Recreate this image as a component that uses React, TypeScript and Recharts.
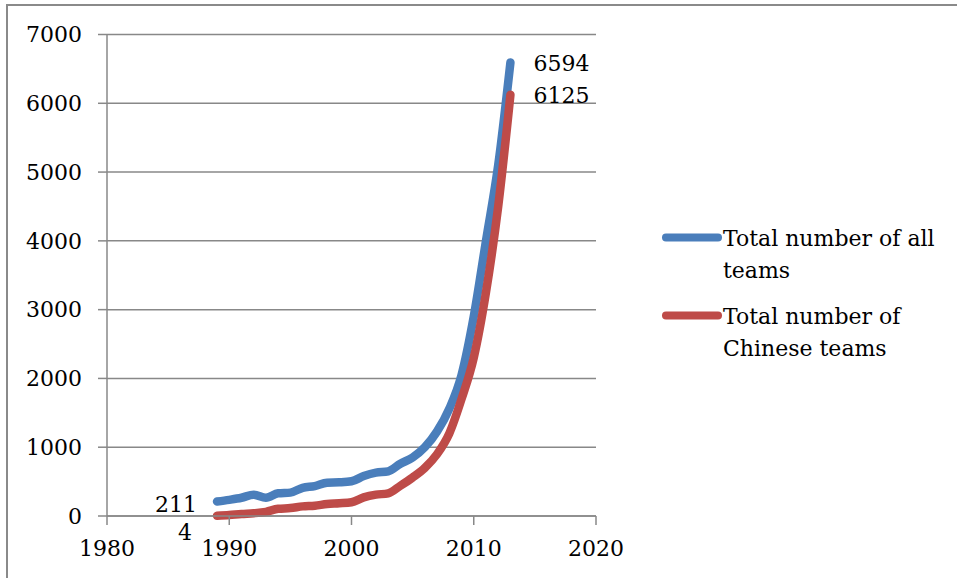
import React from 'react';
import { LineChart, Line, XAxis, YAxis, CartesianGrid } from 'recharts';

// Yearly totals, 1989–2013
const years = [
  1989, 1990, 1991, 1992, 1993, 1994, 1995, 1996, 1997, 1998, 1999, 2000, 2001,
  2002, 2003, 2004, 2005, 2006, 2007, 2008, 2009, 2010, 2011, 2012, 2013,
];
const allTeams = [
  211, 235, 265, 310, 265, 330, 340, 410, 435, 485, 490, 505, 580,
  630, 650, 760, 850, 1000, 1230, 1560, 2050, 2900, 4000, 5100, 6594,
];
const chineseTeams = [
  4, 15, 30, 40, 60, 105, 115, 140, 150, 175, 185, 200, 270,
  310, 330, 440, 560, 700, 900, 1200, 1700, 2300, 3250, 4500, 6125,
];
const xTicks = [1980, 1990, 2000, 2010, 2020];
const yTicks = [0, 1000, 2000, 3000, 4000, 5000, 6000, 7000];
const legendLines = [
  ['Total number of all', 'teams'],
  ['Total number of', 'Chinese teams'],
];

const BLUE = '#4a7ebb';
const RED = '#be4b48';
const GRID = '#888888';
const FONT = '"DejaVu Serif", serif';
const FONT_SIZE = 22;

const rows = years.map((year, i) => ({
  year,
  all: allTeams[i],
  chinese: chineseTeams[i],
}));

// Value labels only on the first and last point of each series
const makeEndLabel =
  (count: number, firstDx: number, firstDy: number) =>
  (props: any) => {
    const { x, y, value, index } = props;
    if (index !== 0 && index !== count - 1) return null;
    const first = index === 0;
    return (
      <text
        key={`lbl-${index}`}
        x={first ? x + firstDx : x + 23}
        y={first ? y + firstDy : y + 1}
        textAnchor={first ? 'end' : 'start'}
        dominantBaseline="central"
        fontFamily={FONT}
        fontSize={FONT_SIZE}
        fill="#000"
      >
        {value}
      </text>
    );
  };

const tickStyle = { fontFamily: FONT, fontSize: FONT_SIZE, fill: '#000' };

export default function App() {
  return (
    <div
      style={{
        position: 'absolute',
        left: 0,
        top: 0,
        width: 957,
        height: 578,
        overflow: 'hidden',
        background: '#fff',
      }}
    >
      {/* chart frame */}
      <div
        style={{
          position: 'absolute',
          left: 6,
          top: 4,
          width: 1000,
          height: 1000,
          borderLeft: '2px solid #8a8a8a',
          borderTop: '2px solid #8a8a8a',
        }}
      />
      <div style={{ position: 'absolute', left: 0, top: 0 }}>
        <LineChart
          width={957}
          height={578}
          data={rows}
          margin={{ top: 34.5, right: 361, bottom: 32, left: 0 }}
        >
          <CartesianGrid vertical={false} stroke={GRID} strokeWidth={1.5} />
          <XAxis
            dataKey="year"
            type="number"
            domain={[1980, 2020]}
            ticks={xTicks}
            interval={0}
            height={30}
            tickSize={9}
            tickMargin={15}
            axisLine={{ stroke: GRID, strokeWidth: 1.5 }}
            tickLine={{ stroke: GRID, strokeWidth: 1.5 }}
            tick={tickStyle}
          />
          <YAxis
            type="number"
            domain={[0, 7000]}
            ticks={yTicks}
            interval={0}
            width={107}
            tickSize={9}
            tickMargin={16}
            axisLine={{ stroke: GRID, strokeWidth: 1.5 }}
            tickLine={{ stroke: GRID, strokeWidth: 1.5 }}
            tick={tickStyle}
          />
          <Line
            type="monotone"
            dataKey="all"
            name={legendLines[0].join(' ')}
            stroke={BLUE}
            strokeWidth={8.5}
            strokeLinecap="round"
            strokeLinejoin="round"
            dot={false}
            isAnimationActive={false}
            label={makeEndLabel(allTeams.length, -20, 3)}
          />
          <Line
            type="monotone"
            dataKey="chinese"
            name={legendLines[1].join(' ')}
            stroke={RED}
            strokeWidth={8.5}
            strokeLinecap="round"
            strokeLinejoin="round"
            dot={false}
            isAnimationActive={false}
            label={makeEndLabel(chineseTeams.length, -25, 17)}
          />
        </LineChart>
      </div>
      {/* legend */}
      <svg
        width={957}
        height={578}
        style={{ position: 'absolute', left: 0, top: 0, pointerEvents: 'none' }}
      >
        {legendLines.map((lines, i) => {
          const base = i === 0 ? 246 : 324;
          const color = i === 0 ? BLUE : RED;
          return (
            <g key={i}>
              <line
                x1={666}
                x2={718}
                y1={base - 8.5}
                y2={base - 8.5}
                stroke={color}
                strokeWidth={8}
                strokeLinecap="round"
              />
              {lines.map((t, j) => (
                <text
                  key={j}
                  x={723}
                  y={base + j * 32}
                  fontFamily={FONT}
                  fontSize={FONT_SIZE}
                  fill="#000"
                >
                  {t}
                </text>
              ))}
            </g>
          );
        })}
      </svg>
    </div>
  );
}
